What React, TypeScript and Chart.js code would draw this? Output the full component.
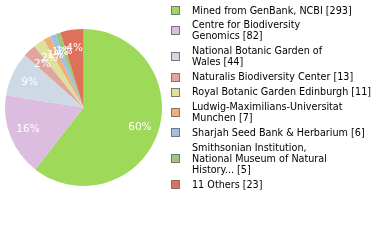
import React, { useEffect, useRef } from "react";
import { Chart, registerables } from "chart.js";

Chart.register(...registerables);

const labels: string[][] = [
  ["Mined from GenBank, NCBI [293]"],
  ["Centre for Biodiversity", "Genomics [82]"],
  ["National Botanic Garden of", "Wales [44]"],
  ["Naturalis Biodiversity Center [13]"],
  ["Royal Botanic Garden Edinburgh [11]"],
  ["Ludwig-Maximilians-Universitat", "Munchen [7]"],
  ["Sharjah Seed Bank & Herbarium [6]"],
  ["Smithsonian Institution,", "National Museum of Natural", "History... [5]"],
  ["11 Others [23]"],
];
const values: number[] = [293, 82, 44, 13, 11, 7, 6, 5, 23];
const colors: string[] = [
  "#9fd95a",
  "#dcbde0",
  "#cddae5",
  "#e0a59c",
  "#e0e09e",
  "#f0b072",
  "#9fbfe6",
  "#9dc87b",
  "#de7159",
];

const pctPlugin = {
  id: "pctLabels",
  afterDatasetsDraw(chart: any) {
    const ctx = chart.ctx;
    const meta = chart.getDatasetMeta(0);
    const total = values.reduce((a, b) => a + b, 0);
    ctx.save();
    ctx.fillStyle = "#ffffff";
    ctx.font = "10.5px 'DejaVu Sans'";
    ctx.textAlign = "center";
    ctx.textBaseline = "middle";
    meta.data.forEach((arc: any, i: number) => {
      const p = arc.getProps(["x", "y", "startAngle", "endAngle", "outerRadius"], true);
      const mid = (p.startAngle + p.endAngle) / 2;
      const r = p.outerRadius * 0.76;
      const pct = Math.floor((values[i] / total) * 100);
      ctx.fillText(pct + "%", p.x + Math.cos(mid) * r, p.y + Math.sin(mid) * r);
    });
    ctx.restore();
  },
};

export default function App() {
  const ref = useRef<HTMLCanvasElement>(null);
  useEffect(() => {
    if (!ref.current) return;
    const chart = new Chart(ref.current, {
      type: "pie",
      data: {
        labels: labels.map((l) => l.join(" ")),
        datasets: [
          {
            data: values,
            backgroundColor: colors,
            borderWidth: 0,
          },
        ],
      },
      options: {
        animation: false,
        responsive: false,
        layout: { padding: { left: 5, top: 29, right: 218, bottom: 54 } },
        plugins: {
          legend: { display: false },
          tooltip: { enabled: false },
        },
      },
      plugins: [pctPlugin],
    });
    return () => chart.destroy();
  }, []);

  const lineH = 11;
  const gap = 3.9;
  let y = 4.5;
  const items = labels.map((l, i) => {
    const top = y;
    const h = l.length * lineH;
    y += h + gap;
    return (
      <div key={i} style={{ position: "absolute", left: 0, top, height: h, width: 220 }}>
        <div
          style={{
            position: "absolute",
            left: 171,
            top: h / 2 - 4,
            width: 7,
            height: 7,
            background: colors[i],
            border: "1px solid #777",
          }}
        />
        {l.map((t, j) => (
          <div
            key={j}
            style={{
              position: "absolute",
              left: 192,
              top: j * lineH,
              lineHeight: lineH + "px",
              whiteSpace: "nowrap",
              fontSize: 9.65,
              fontFamily: "'DejaVu Sans'",
              color: "#000",
            }}
          >
            {t}
          </div>
        ))}
      </div>
    );
  });

  return (
    <div style={{ position: "fixed", left: 0, top: 0, width: 380, height: 240, background: "#fff" }}>
      <canvas ref={ref} width={380} height={240} style={{ position: "absolute", left: 0, top: 0 }} />
      {items}
    </div>
  );
}
